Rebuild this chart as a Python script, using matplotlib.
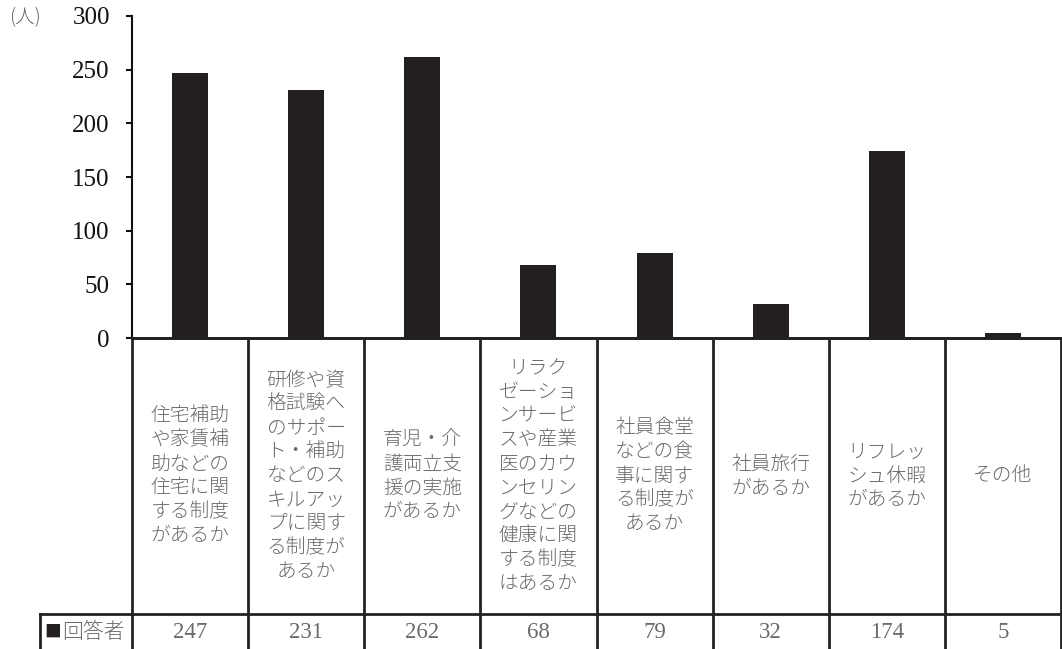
import matplotlib
matplotlib.use("Agg")
import matplotlib.pyplot as plt

categories = [
    "住宅補助\nや家賃補\n助などの\n住宅に関\nする制度\nがあるか",
    "研修や資\n格試験へ\nのサポー\nト・補助\nなどのス\nキルアッ\nプに関す\nる制度が\nあるか",
    "育児・介\n護両立支\n援の実施\nがあるか",
    "リラク\nゼーショ\nンサービ\nスや産業\n医のカウ\nンセリン\nグなどの\n健康に関\nする制度\nはあるか",
    "社員食堂\nなどの食\n事に関す\nる制度が\nあるか",
    "社員旅行\nがあるか",
    "リフレッ\nシュ休暇\nがあるか",
    "その他",
]
values = [247, 231, 262, 68, 79, 32, 174, 5]
series_name = "回答者"
yticks = [0, 50, 100, 150, 200, 250, 300]
unit = "(人)"

W, H = 1062, 649
fig = plt.figure(figsize=(W / 100, H / 100), dpi=100)

JP = ["Noto Sans CJK JP", "DejaVu Sans"]
SERIF = ["Liberation Serif", "DejaVu Serif"]
GREY = "#6a6a6a"
BAR = "#231f20"

x0, x1 = 132, 1061
ytop, yzero = 16, 338
ax = fig.add_axes([x0 / W, 1 - yzero / H, (x1 - x0) / W, (yzero - ytop) / H])
n = len(values)
xs = [i + 0.5 for i in range(n)]
ax.bar(xs, values, width=0.31, color=BAR, zorder=3)
ax.set_xlim(0, n)
ax.set_ylim(0, 300)
ax.set_yticks(yticks)
ax.set_yticklabels([str(t) for t in yticks], fontfamily=SERIF, fontsize=18, color="#111111")
ax.tick_params(axis="y", direction="out", length=4, width=1.5, pad=12, color="#111111")
ax.set_xticks([])
for s in ["top", "right"]:
    ax.spines[s].set_visible(False)
ax.spines["left"].set_linewidth(1.5)
ax.spines["left"].set_color("#111111")
ax.spines["bottom"].set_linewidth(2)
ax.spines["bottom"].set_color("#222222")

fig.text(9 / W, 1 - 18 / H, unit, family=JP, fontsize=14, color=GREY, ha="left", va="center",
         fontweight="light")

# table
lab_left = 40
tax = fig.add_axes([lab_left / W, 0, (x1 - lab_left) / W, (H - yzero) / H])
unit_px = (x1 - x0) / n
tax.set_xlim(-(x0 - lab_left) / unit_px, n)
tax.set_ylim(H - yzero, 0)
tax.axis("off")
row_y = 614 - yzero
hgt = H - yzero
lc = "#222222"
tax.plot([0, n], [0, 0], color=lc, lw=2, clip_on=False)
tax.plot([tax.get_xlim()[0], n], [row_y, row_y], color=lc, lw=2, clip_on=False)
for i in range(n + 1):
    tax.plot([i, i], [0, hgt], color=lc, lw=2, clip_on=False)
tax.plot([tax.get_xlim()[0]] * 2, [row_y, hgt], color=lc, lw=2, clip_on=False)

for i, (c, v) in enumerate(zip(categories, values)):
    tax.text(i + 0.5, row_y / 2, c, ha="center", va="center", family=JP, fontsize=14.2,
             color=GREY, linespacing=1.18, fontweight="light")
    tax.text(i + 0.5, (row_y + hgt) / 2 + 1, str(v), ha="center", va="center",
             family=SERIF, fontsize=16.5, color=GREY)

lx = tax.get_xlim()[0]
tax.text(lx + 0.04, (row_y + hgt) / 2 + 1, "■", ha="left", va="center", family=JP,
         fontsize=12, color=BAR)
tax.text(lx + 0.19, (row_y + hgt) / 2 + 1, series_name, ha="left", va="center", family=JP,
         fontsize=15, color=GREY, fontweight="light")

fig.savefig("out.png", dpi=100)
